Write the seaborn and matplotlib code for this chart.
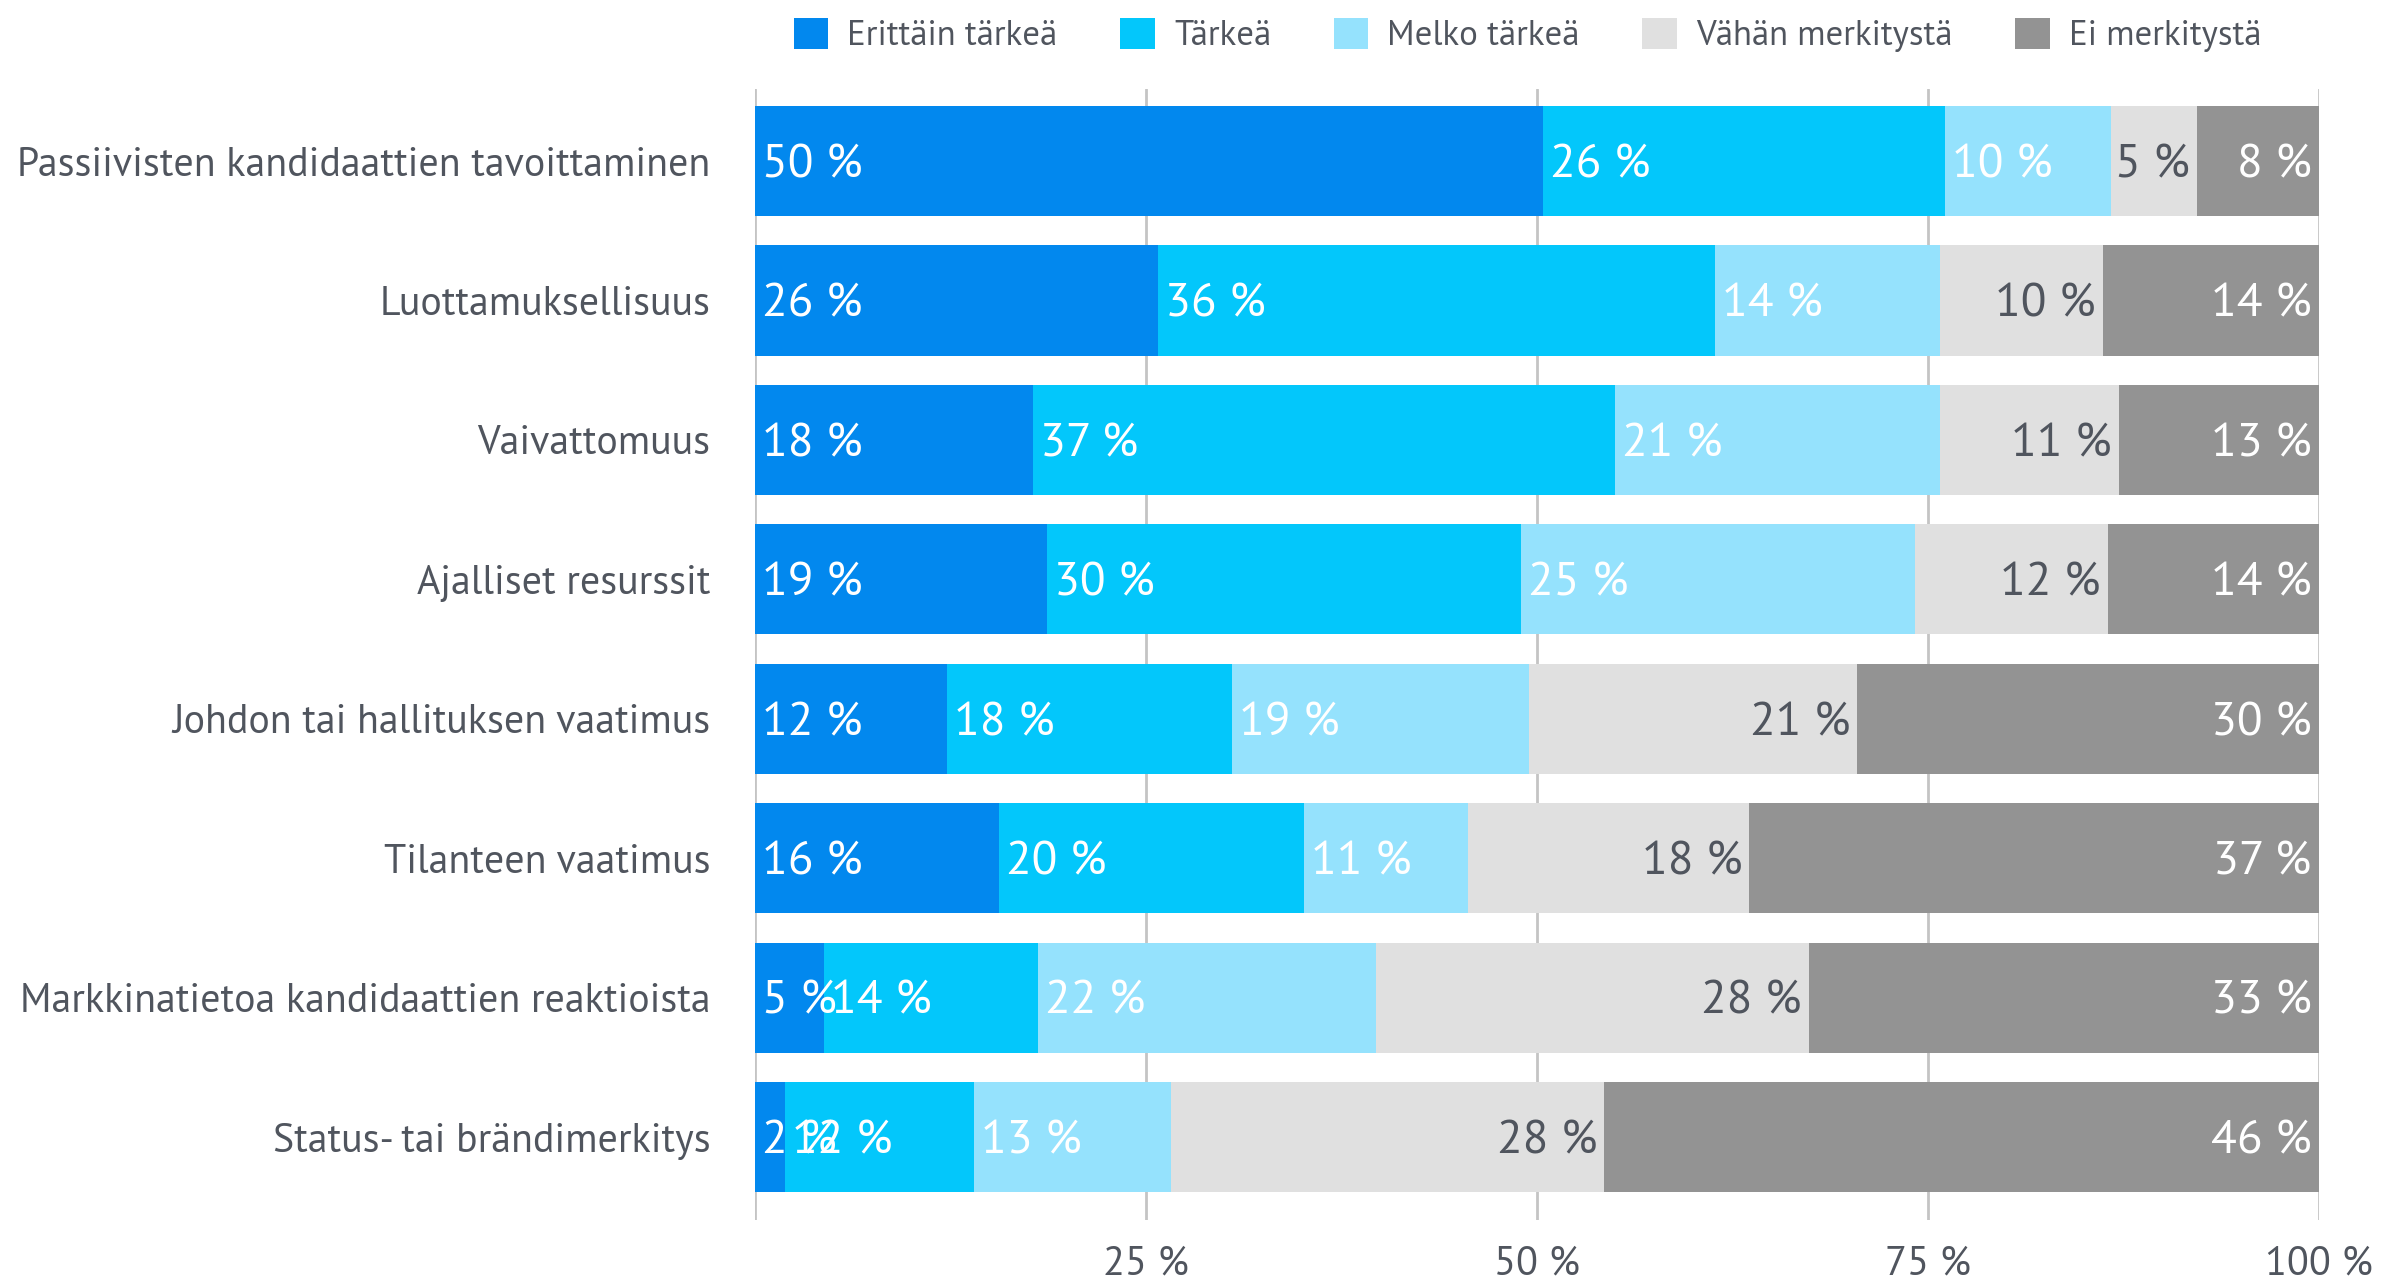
import numpy as np
import pandas as pd
import matplotlib
matplotlib.use("Agg")
import matplotlib.pyplot as plt
from matplotlib.patches import Patch
import seaborn as sns

categories = [
    "Passiivisten kandidaattien tavoittaminen",
    "Luottamuksellisuus",
    "Vaivattomuus",
    "Ajalliset resurssit",
    "Johdon tai hallituksen vaatimus",
    "Tilanteen vaatimus",
    "Markkinatietoa kandidaattien reaktioista",
    "Status- tai brändimerkitys",
]
series_names = ["Erittäin tärkeä", "Tärkeä", "Melko tärkeä", "Vähän merkitystä", "Ei merkitystä"]

# bar widths (share of 100 %)
erittain = [50.4, 25.8, 17.8, 18.7, 12.3, 15.6, 4.4, 1.9]
tarkea = [25.7, 35.6, 37.2, 30.3, 18.2, 19.5, 13.7, 12.1]
melko = [10.6, 14.4, 20.8, 25.2, 19.0, 10.5, 21.6, 12.6]
vahan = [5.5, 10.4, 11.4, 12.3, 21.0, 18.0, 27.7, 27.7]
ei = [7.8, 13.8, 12.8, 13.5, 29.5, 36.4, 32.6, 45.7]

# printed labels
lab_erittain = [50, 26, 18, 19, 12, 16, 5, 2]
lab_tarkea = [26, 36, 37, 30, 18, 20, 14, 12]
lab_melko = [10, 14, 21, 25, 19, 11, 22, 13]
lab_vahan = [5, 10, 11, 12, 21, 18, 28, 28]
lab_ei = [8, 14, 13, 14, 30, 37, 33, 46]

xticks = [0, 25, 50, 75, 100]
xticklabels = ["", "25 %", "50 %", "75 %", "100 %"]

colors = ["#0288ee", "#03c7fb", "#95e2fd", "#e0e0e0", "#939393"]
text_dark = "#50555e"

sns.set_theme(style="white")
plt.rcParams["font.family"] = ["PT Sans", "PT Sans Narrow", "Roboto", "DejaVu Sans"]

widths = [erittain, tarkea, melko, vahan, ei]
labels = [lab_erittain, lab_tarkea, lab_melko, lab_vahan, lab_ei]
cum = np.cumsum(np.array(widths), axis=0)

fig = plt.figure(figsize=(24.06, 12.86), dpi=100)
ax = fig.add_axes([0.3138, 0.0513, 0.6499, 0.8795])

for i in range(len(series_names) - 1, -1, -1):
    df = pd.DataFrame({"cat": categories, "val": cum[i]})
    sns.barplot(data=df, x="val", y="cat", order=categories, orient="h",
                color=colors[i], saturation=1, width=0.79, ax=ax, zorder=2,
                linewidth=0, edgecolor="none")

ax.set_xlim(0, 100)
ax.set_ylim(7.595, -0.517)
ax.set_xticks(xticks)
ax.set_xticklabels(xticklabels)
ax.grid(axis="x", color="#c4c4c4", linewidth=2, zorder=0)
ax.grid(axis="y", visible=False)
ax.set_axisbelow(True)
for s in ax.spines.values():
    s.set_visible(False)
ax.set_xlabel("")
ax.set_ylabel("")
ax.tick_params(axis="x", length=0, pad=18, labelsize=29, labelcolor=text_dark)
ax.tick_params(axis="y", length=0, pad=32, labelsize=28.7, labelcolor=text_dark)

for i in range(len(series_names)):
    for j in range(len(categories)):
        left = cum[i][j] - widths[i][j]
        right = cum[i][j]
        txt = f"{labels[i][j]} %"
        if i < 3:
            ax.annotate(txt, (left, j), xytext=(5, -3), textcoords="offset points",
                        ha="left", va="center", fontsize=34, color="white", zorder=5)
        else:
            col = text_dark if i == 3 else "white"
            ax.annotate(txt, (right, j), xytext=(-5, -3), textcoords="offset points",
                        ha="right", va="center", fontsize=34, color=col, zorder=5)

handles = [Patch(facecolor=c, edgecolor="none", label=n) for c, n in zip(colors, series_names)]
leg = fig.legend(handles=handles, loc="center", bbox_to_anchor=(0.6349, 0.973), ncol=5,
                 frameon=False, fontsize=25, handlelength=1.0, handleheight=1.0,
                 handletextpad=0.55, columnspacing=1.8)
for t in leg.get_texts():
    t.set_color(text_dark)

fig.savefig("out.png", dpi=100)
